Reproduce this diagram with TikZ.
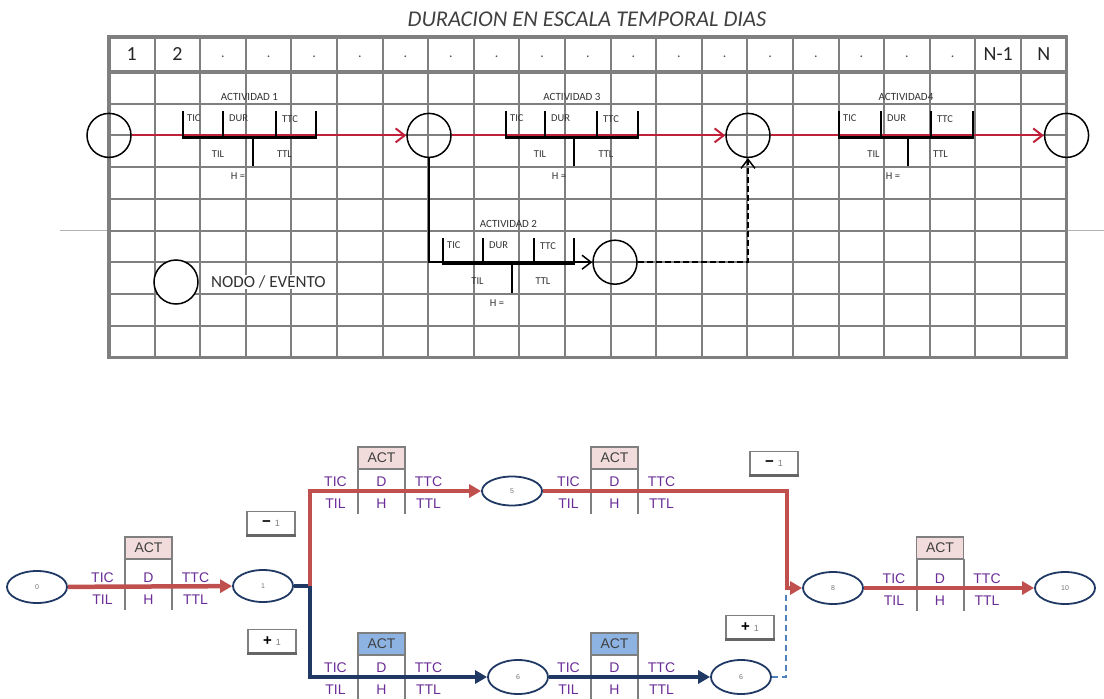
\documentclass[tikz,border=0pt]{standalone}
\usepackage{fontspec}
\setmainfont{Carlito}
\newfontfamily\arial{Liberation Sans}
\usetikzlibrary{positioning,arrows.meta,shapes.geometric}

\definecolor{rejilla}{HTML}{7F7F7F}
\definecolor{rojoT}{HTML}{C0203A}
\definecolor{rojoB}{HTML}{C0504D}
\definecolor{azulB}{HTML}{1F3864}
\definecolor{azulD}{HTML}{4F81BD}
\definecolor{rosa}{HTML}{F2DCDB}
\definecolor{celeste}{HTML}{8DB3E2}
\definecolor{morado}{HTML}{6A2C96}

% tramo de actividad en la escala temporal
\newcommand{\tramo}[8]{%
  \draw[barra] (#3,#2-24) -- (#3,#2+2) -- (#6,#2+2) -- (#6,#2-24);
  \draw[barra] (#4,#2-24) -- (#4,#2+2);
  \draw[barra] (#5,#2-24) -- (#5,#2+2);
  \draw[barra] (#7,#2+2) -- (#7,#2+31);
  \node[etq, anchor=west] (#1tic) at (#3+4,#2-17) {TIC};
  \node[etq, anchor=west] (#1dur) at (#4+6,#2-17) {DUR};
  \node[etq, anchor=west] (#1ttc) at (#5+6,#2-16) {TTC};
  \node[etq] (#1til) at ({(#3+#7)/2},#2+19) {TIL};
  \node[etq] (#1ttl) at ({(#7+#6)/2},#2+19) {TTL};
  \node[etq] (#1h) at (#7-15,#2+41) {H =};
  \node[etq, font=\fontsize{11}{11}\selectfont] (#1tit) at ({(#3+#6)/2},#2-38) {#8};
}

% actividad de la red inferior
\newcommand{\actividad}[5]{%
  \node[act, fill=#5] (#1) at (#2,#3+#4+11) {ACT};
  \draw[poste] (#2-23.5,#3+#4+22) -- (#2-23.5,#3+23);
  \draw[poste] (#2+23.5,#3+#4+22) -- (#2+23.5,#3+23);
  \node[lbl] (#1tic) at (#2-46,#3-9.5) {TIC};
  \node[lbl] (#1d) at (#2,#3-9.5) {D};
  \node[lbl] (#1ttc) at (#2+47,#3-9.5) {TTC};
  \node[lbl] (#1til) at (#2-46,#3+12.5) {TIL};
  \node[lbl] (#1h) at (#2,#3+12.5) {H};
  \node[lbl] (#1ttl) at (#2+47,#3+12.5) {TTL};
}

\begin{document}
\begin{tikzpicture}[x=1pt, y=-1pt,
  linea/.style={draw=rejilla, line width=2pt},
  marco/.style={draw=rejilla, line width=3.5pt},
  num/.style={font=\fontsize{20}{20}\selectfont, text=black!85, inner sep=0},
  punto/.style={font=\fontsize{14}{14}\selectfont, text=black!70, inner sep=0},
  evento/.style={circle, draw, line width=1.5pt, minimum size=44pt, inner sep=0},
  barra/.style={line width=2.4pt, black},
  etq/.style={font=\fontsize{10.5}{10.5}\selectfont, text=black!80, inner sep=0},
  flechaT/.style={rojoT, line width=2pt, -{Straight Barb[length=9pt,width=14pt]}},
  flechaN/.style={black, line width=1.5pt, -{Straight Barb[length=9pt,width=14pt]}},
  nodo/.style={ellipse, draw=azulB, line width=1.8pt, minimum width=60pt,
    minimum height=32pt, inner sep=0, font=\arial\fontsize{7}{7}\selectfont, text=black!55},
  act/.style={draw=rejilla, line width=1.8pt, minimum width=47pt, minimum height=22pt,
    inner sep=0, font=\arial\fontsize{14}{14}\selectfont, text=black!75},
  poste/.style={rejilla, line width=2pt},
  lbl/.style={font=\arial\fontsize{14}{14}\selectfont, text=morado, inner sep=0},
  flechaR/.style={rojoB, line width=4.5pt, -{Triangle[length=12pt,width=13pt]}},
  flechaA/.style={azulB, line width=4pt, -{Triangle[length=12pt,width=13pt]}},
  caja/.style={draw=rejilla, line width=1.5pt, fill=white, minimum width=48pt,
    minimum height=23pt, inner sep=0, font=\arial\fontsize{15}{15}\selectfont\bfseries}
]
\useasboundingbox (0,0) rectangle (1104,699);

% ---------- escala temporal ----------
\node[font=\fontsize{22.5}{22.5}\selectfont\itshape, text=black!75] (titulo) at (587,19)
  {DURACION EN ESCALA TEMPORAL DIAS};
\draw[rejilla!60, line width=1pt] (60,230.5) -- (1104,230.5);
\foreach \i in {1,...,20}
  \draw[linea] ({109+45.6*\i},37) -- ({109+45.6*\i},357.3);
\foreach \j in {1,...,8}
  \draw[linea] (109,{72+31.7*\j}) -- (1066.6,{72+31.7*\j});
\draw[marco] (109,37) rectangle (1066.6,357.3);
\draw[marco] (109,72) -- (1066.6,72);

\node[num] (c1) at (131.8,54.5) {1};
\node[num] (c2) at (177.4,54.5) {2};
\foreach \i in {3,...,19}
  \node[punto] (c\i) at ({109+45.6*\i-22.8},57) {.};
\node[num] (c20) at (998.2,54.5) {N-1};
\node[num] (c21) at (1043.8,54.5) {N};

% eventos
\node[evento] (e1) at (109,135.4) {};
\node[evento] (e2) at (429,135.4) {};
\node[evento] (e3) at (748,135.4) {};
\node[evento] (e4) at (1066.6,135.4) {};
\node[evento] (e5) at (615,262.2) {};

\draw[flechaT] (e1) -- (e2);
\draw[flechaT] (e2) -- (e3);
\draw[flechaT] (e3) -- (e4);
\draw[flechaN] (e2) |- (e5);
\draw[flechaN, dash pattern=on 6pt off 3pt] (e5) -| (e3);

\tramo{a1}{135.4}{183}{223}{276}{316}{253}{ACTIVIDAD 1}
\tramo{a3}{135.4}{506}{545}{597}{638}{574}{ACTIVIDAD 3}
\tramo{a4}{135.4}{839}{881}{931}{973}{908}{ACTIVIDAD4}
\tramo{a2}{262.2}{443}{483}{534}{574}{512}{ACTIVIDAD 2}

% leyenda
\node[evento, fill=white] (ley) at (176,282) {};
\node[anchor=west, fill=white, inner sep=1pt, font=\fontsize{17}{17}\selectfont, text=black!80]
  (leytxt) at (210,282) {NODO / EVENTO};

% ---------- red de holguras ----------
\node[nodo] (n0) at (37,587) {0};
\node[nodo] (n1) at (263,586) {1};
\node[nodo, minimum height=29pt] (n5) at (512,491) {5};
\node[nodo, minimum height=34pt] (n6a) at (518,677) {6};
\node[nodo, minimum height=34pt] (n6b) at (741,677) {6};
\node[nodo] (n8) at (833,588) {8};
\node[nodo] (n10) at (1065,588) {10};

\actividad{b1}{148.5}{587}{-50}{rosa}
\actividad{b2}{381.5}{491}{-44}{rosa}
\actividad{b3}{614.5}{491}{-44}{rosa}
\actividad{b4}{381.5}{677}{-44}{celeste}
\actividad{b5}{614.5}{677}{-44}{celeste}
\actividad{b6}{940}{588}{-51}{rosa}

\coordinate (p1) at (310,586);
\coordinate (p2) at (787,491);
\coordinate (p3) at (786,677);
\coordinate (p4) at (786,592);

\draw[azulD, line width=1.5pt, dash pattern=on 6pt off 4pt] (n6b) -- (p3) -- (p4);
\draw[flechaR] (n0) -- (n1);
\draw[flechaA] (n1) -- (p1) |- (n6a);
\draw[flechaR] (p1) |- (n5);
\draw[flechaR] (n5) -- (p2) |- (n8);
\draw[flechaA] (n6a) -- (n6b);
\draw[flechaR] (n8) -- (n10);

% holguras
\node[caja] (h1) at (271,523) {−\hspace{4pt}{\mdseries\fontsize{9}{9}\selectfont\color{black!50}1}};
\node[caja] (h2) at (272,641) {+\hspace{4pt}{\mdseries\fontsize{9}{9}\selectfont\color{black!50}1}};
\node[caja] (h3) at (774,463) {−\hspace{4pt}{\mdseries\fontsize{9}{9}\selectfont\color{black!50}1}};
\node[caja] (h4) at (750,627) {+\hspace{4pt}{\mdseries\fontsize{9}{9}\selectfont\color{black!50}1}};
\foreach \h in {h1,h2,h3,h4}
  \draw[rejilla!80!black, line width=2.5pt] (\h.south west) -- (\h.south east);
\end{tikzpicture}
\end{document}
